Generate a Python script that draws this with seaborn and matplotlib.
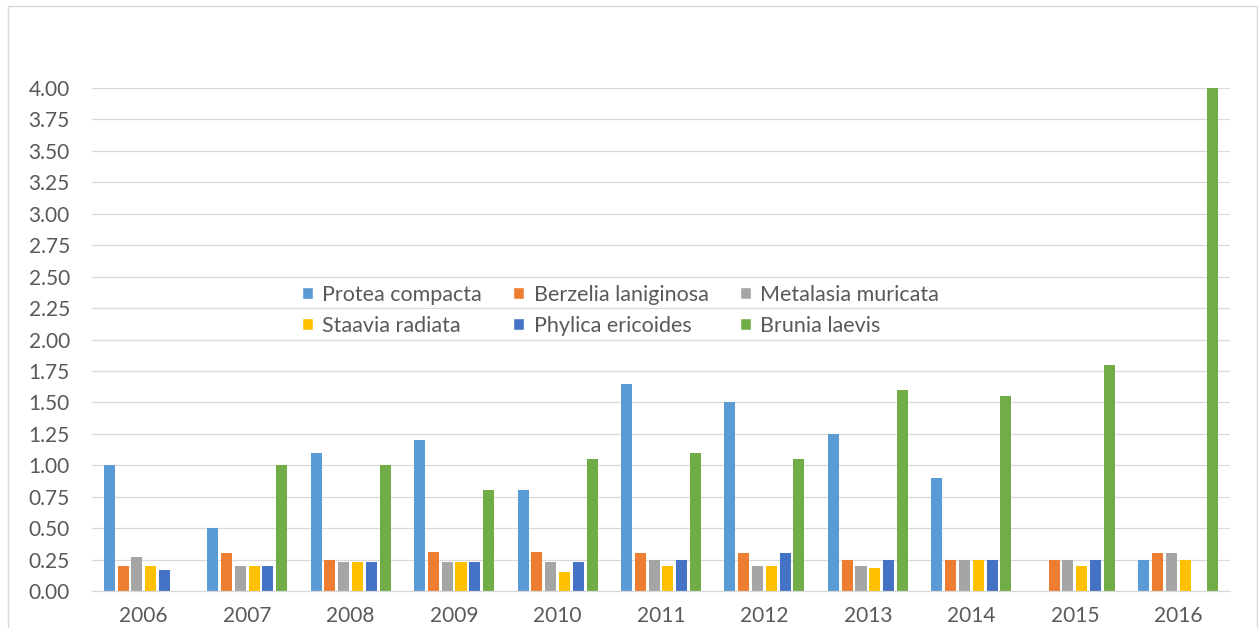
import numpy as np
import pandas as pd
import matplotlib
matplotlib.use("Agg")
import matplotlib.pyplot as plt
import seaborn as sns
from matplotlib.patches import Patch, Rectangle

# data
years = ["2006", "2007", "2008", "2009", "2010", "2011", "2012", "2013", "2014", "2015", "2016"]
species = ["Protea compacta", "Berzelia laniginosa", "Metalasia muricata",
           "Staavia radiata", "Phylica ericoides", "Brunia laevis"]
protea = [1.00, 0.50, 1.10, 1.20, 0.80, 1.65, 1.50, 1.25, 0.90, 0.00, 0.25]
berzelia = [0.20, 0.30, 0.25, 0.31, 0.31, 0.30, 0.30, 0.25, 0.25, 0.25, 0.30]
metalasia = [0.27, 0.20, 0.23, 0.23, 0.23, 0.25, 0.20, 0.20, 0.25, 0.25, 0.30]
staavia = [0.20, 0.20, 0.23, 0.23, 0.15, 0.20, 0.20, 0.18, 0.25, 0.20, 0.25]
phylica = [0.17, 0.20, 0.23, 0.23, 0.23, 0.25, 0.30, 0.25, 0.25, 0.25, 0.00]
brunia = [0.00, 1.00, 1.00, 0.80, 1.05, 1.10, 1.05, 1.60, 1.55, 1.80, 4.00]
colors = ["#5B9BD5", "#ED7D31", "#A5A5A5", "#FFC000", "#4472C4", "#70AD47"]

#long format for seaborn
series = [protea, berzelia, metalasia, staavia, phylica, brunia]
rows = []
for name, vals in zip(species, series):
    for yr, v in zip(years, vals):
        rows.append({"Year": yr, "Species": name, "Value": v})
df = pd.DataFrame(rows)

sns.set_theme(style="white")
plt.rcParams["font.family"] = ["Lato", "DejaVu Sans"]
txt = "#595959"
grid = "#D9D9D9"

W, H = 1258, 628
fig = plt.figure(figsize=(W / 100, H / 100), dpi=100)
ax = fig.add_axes([92 / W, 1 - 591 / H, (1230 - 92) / W, (591 - 88) / H])

sns.barplot(data=df, x="Year", y="Value", hue="Species", hue_order=species,
            order=years, palette=colors, saturation=1, width=0.8, gap=0.2,
            errorbar=None, linewidth=0, legend=False, ax=ax)

ax.set_xlim(-0.5, 10.5)
ax.set_ylim(0, 4)
ax.set_yticks(np.arange(0, 4.01, 0.25))
ax.set_yticklabels([f"{v:.2f}" for v in np.arange(0, 4.01, 0.25)])
ax.set_xlabel("")
ax.set_ylabel("")
ax.yaxis.grid(True, color=grid, lw=0.9)
ax.set_axisbelow(True)

# category boundaries as long ticks hanging down
ax.set_xticks(np.arange(-0.5, 11, 1), minor=True)
ax.tick_params(axis="x", which="minor", length=30, width=0.9, color=grid, direction="out")
ax.tick_params(axis="x", which="major", length=0, pad=11, labelsize=15, labelcolor=txt)
ax.tick_params(axis="y", length=0, pad=16, labelsize=15, labelcolor=txt)

for s in ["left", "right", "top"]:
    ax.spines[s].set_visible(False)
ax.spines["bottom"].set_color(grid)
ax.spines["bottom"].set_linewidth(0.9)

# legend filled row by row
order = [0, 3, 1, 4, 2, 5]
handles = [Patch(facecolor=colors[i], label=species[i]) for i in order]
fig.legend(handles=handles, loc="upper left", bbox_to_anchor=(302 / W, 1 - 285 / H),
           ncol=3, frameon=False, fontsize=15.5, labelcolor=txt, borderpad=0,
           handlelength=0.5, handleheight=0.5, handletextpad=0.45,
           labelspacing=0.5, columnspacing=1.45, borderaxespad=0)

# outer chart frame
fig.patches.append(Rectangle((8 / W, -0.1), (1257 - 8) / W, 1.1 - 6 / H,
                             transform=fig.transFigure, fill=False,
                             edgecolor=grid, lw=1.0))

fig.savefig("out.png", dpi=100)
